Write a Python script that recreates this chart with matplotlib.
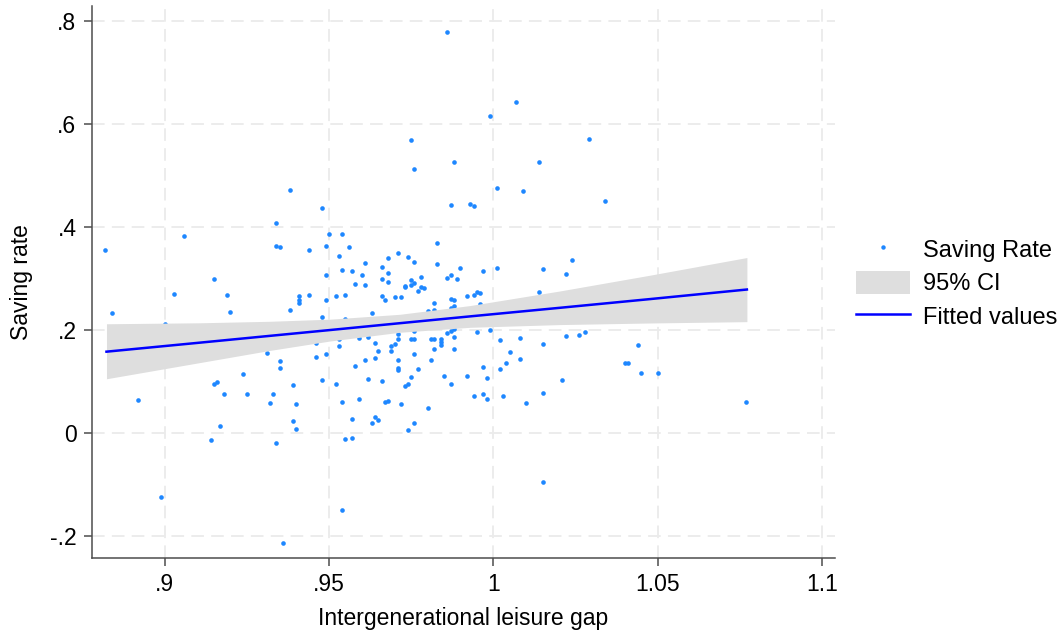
import numpy as np
import matplotlib
matplotlib.use("Agg")
import matplotlib.pyplot as plt
from matplotlib.lines import Line2D
from matplotlib.patches import Patch

plt.rcParams['font.family'] = ['Liberation Sans', 'DejaVu Sans']

# leisure gap (x) and saving rate (y)
leisure_gap = [
    0.882, 0.884, 0.892, 0.900, 0.899, 0.903, 0.906, 0.914, 0.915, 0.915,
    0.916, 0.917, 0.918, 0.919, 0.920, 0.924, 0.925, 0.931, 0.932, 0.933,
    0.934, 0.934, 0.935, 0.935, 0.935, 0.934, 0.936, 0.938, 0.938, 0.939,
    0.939, 0.940, 0.940, 0.941, 0.941, 0.941, 0.944, 0.944, 0.946, 0.946,
    0.948, 0.948, 0.948, 0.949, 0.949, 0.949, 0.949, 0.950, 0.952, 0.952,
    0.953, 0.953, 0.953, 0.954, 0.954, 0.954, 0.954, 0.955, 0.955, 0.955,
    0.956, 0.957, 0.957, 0.957, 0.958, 0.958, 0.959, 0.959, 0.960, 0.961,
    0.961, 0.961, 0.962, 0.962, 0.963, 0.963, 0.964, 0.964, 0.964, 0.965,
    0.965, 0.966, 0.966, 0.966, 0.966, 0.967, 0.967, 0.968, 0.968, 0.968,
    0.968, 0.969, 0.969, 0.970, 0.970, 0.971, 0.971, 0.971, 0.971, 0.971,
    0.971, 0.972, 0.972, 0.973, 0.973, 0.973, 0.974, 0.974, 0.974, 0.975,
    0.975, 0.975, 0.975, 0.975, 0.976, 0.976, 0.976, 0.976, 0.976, 0.976,
    0.976, 0.977, 0.977, 0.978, 0.978, 0.979, 0.980, 0.980, 0.981, 0.981,
    0.982, 0.982, 0.982, 0.982, 0.983, 0.983, 0.984, 0.984, 0.984, 0.985,
    0.986, 0.986, 0.986, 0.987, 0.987, 0.987, 0.987, 0.987, 0.987, 0.988,
    0.988, 0.988, 0.988, 0.988, 0.988, 0.989, 0.990, 0.992, 0.992, 0.993,
    0.994, 0.994, 0.994, 0.995, 0.995, 0.996, 0.996, 0.997, 0.997, 0.997,
    0.998, 0.998, 0.999, 0.999, 1.001, 1.001, 1.002, 1.002, 1.003, 1.004,
    1.005, 1.007, 1.008, 1.008, 1.009, 1.010, 1.014, 1.014, 1.015, 1.015,
    1.015, 1.015, 1.021, 1.022, 1.022, 1.024, 1.026, 1.028, 1.029, 1.034,
    1.040, 1.041, 1.044, 1.045, 1.050, 1.077,
]
saving_rate = [
    0.355, 0.232, 0.063, 0.212, -0.124, 0.269, 0.382, -0.014, 0.298, 0.094,
    0.098, 0.013, 0.076, 0.268, 0.234, 0.113, 0.076, 0.154, 0.058, 0.076,
    0.407, 0.363, 0.361, 0.140, 0.126, -0.020, -0.214, 0.239, 0.472, 0.023,
    0.093, 0.008, 0.056, 0.257, 0.266, 0.251, 0.268, 0.355, 0.146, 0.174,
    0.437, 0.225, 0.103, 0.306, 0.362, 0.258, 0.153, 0.386, 0.265, 0.095,
    0.181, 0.169, 0.343, 0.060, -0.150, 0.386, 0.315, 0.221, -0.013, 0.267,
    0.361, 0.027, 0.314, -0.010, 0.289, 0.130, 0.184, 0.066, 0.306, 0.287,
    0.329, 0.142, 0.186, 0.104, 0.232, 0.019, 0.030, 0.174, 0.145, 0.159,
    0.025, 0.266, 0.299, 0.322, 0.100, 0.257, 0.060, 0.062, 0.311, 0.340,
    0.293, 0.169, 0.159, 0.264, 0.172, 0.125, 0.121, 0.349, 0.142, 0.182,
    0.191, 0.264, 0.056, 0.285, 0.090, 0.283, 0.005, 0.341, 0.095, 0.286,
    0.297, 0.108, 0.568, 0.182, 0.512, 0.019, 0.153, 0.291, 0.197, 0.181,
    0.331, 0.276, 0.123, 0.303, 0.283, 0.281, 0.047, 0.237, 0.181, 0.141,
    0.251, 0.163, 0.238, 0.181, 0.369, 0.328, 0.176, 0.181, 0.170, 0.111,
    0.301, 0.778, 0.194, 0.197, 0.260, 0.243, 0.442, 0.306, 0.095, 0.258,
    0.163, 0.525, 0.201, 0.186, 0.246, 0.298, 0.319, 0.266, 0.111, 0.444,
    0.440, 0.268, 0.071, 0.273, 0.195, 0.272, 0.250, 0.313, 0.127, 0.075,
    0.065, 0.107, 0.199, 0.614, 0.476, 0.320, 0.124, 0.180, 0.072, 0.135,
    0.157, 0.642, 0.143, 0.184, 0.470, 0.058, 0.274, 0.525, -0.095, 0.172,
    0.317, 0.078, 0.103, 0.188, 0.309, 0.335, 0.190, 0.196, 0.571, 0.450,
    0.135, 0.135, 0.170, 0.115, 0.115, 0.060,
]

# fitted line and 95% CI band, read at a few x positions
fit_x = [0.8823, 0.9107, 0.9320, 0.9503, 0.9716, 0.9929, 1.0203, 1.0477, 1.0772]
fit_y = [0.1573, 0.1748, 0.1880, 0.1993, 0.2126, 0.2258, 0.2425, 0.2594, 0.2780]
ci_hi = [0.2115, 0.2134, 0.2163, 0.2204, 0.2299, 0.2468, 0.2752, 0.3058, 0.3401]
ci_lo = [0.1047, 0.1361, 0.1597, 0.1780, 0.1950, 0.2046, 0.2099, 0.2130, 0.2156]

x_ticks = [0.9, 0.95, 1.0, 1.05, 1.1]
x_ticklabels = ['.9', '.95', '1', '1.05', '1.1']
y_ticks = [-0.2, 0, 0.2, 0.4, 0.6, 0.8]
y_ticklabels = ['-.2', '0', '.2', '.4', '.6', '.8']

fs = 16.5

fig = plt.figure(figsize=(10.6, 6.32), dpi=100)
ax = fig.add_axes([0.0865, 0.1176, 0.7012, 0.8729])

ax.scatter(leisure_gap, saving_rate, s=11, color='#1e87ff', linewidths=0, zorder=2)
ax.fill_between(fit_x, ci_lo, ci_hi, color='#dedede', linewidth=0, zorder=3)
ax.plot(fit_x, fit_y, color='#0000ff', linewidth=1.8, zorder=4)

ax.set_xlim(0.8778, 1.1040)
ax.set_ylim(-0.2427, 0.8285)
ax.set_xticks(x_ticks)
ax.set_xticklabels(x_ticklabels)
ax.set_yticks(y_ticks)
ax.set_yticklabels(y_ticklabels)

ax.grid(True, color='#ebebeb', linestyle=(0, (7, 4)), linewidth=1.3)
ax.set_axisbelow(True)
for s in ['top', 'right']:
    ax.spines[s].set_visible(False)
for s in ['left', 'bottom']:
    ax.spines[s].set_color('#4d4d4d')
    ax.spines[s].set_linewidth(1.1)
ax.tick_params(axis='both', direction='out', length=6, width=1.1, color='#4d4d4d',
               labelsize=fs, labelcolor='black', pad=5)

ax.set_xlabel('Intergenerational leisure gap', fontsize=fs, labelpad=8)
ax.set_ylabel('Saving rate', fontsize=fs, labelpad=12)

handles = [
    Line2D([], [], linestyle='none', marker='o', markersize=3.2, markeredgewidth=0,
           color='#1e87ff'),
    Patch(facecolor='#dedede', edgecolor='none'),
    Line2D([], [], color='#0000ff', linewidth=1.8),
]
labels = ['Saving Rate', '95% CI', 'Fitted values']
fig.legend(handles, labels, loc='center left', bbox_to_anchor=(0.8073, 0.552),
           frameon=False, fontsize=17, handlelength=2.3, handleheight=1.1,
           handletextpad=0.55, labelspacing=0.4, borderpad=0, borderaxespad=0)

fig.savefig('out.png', dpi=100)
